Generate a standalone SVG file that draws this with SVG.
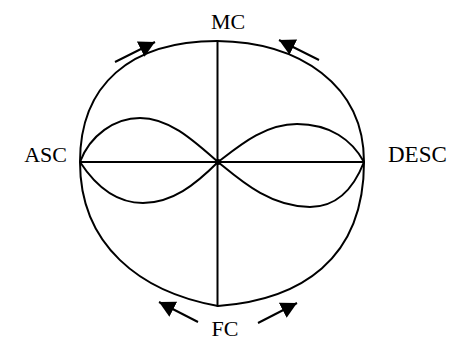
<svg xmlns="http://www.w3.org/2000/svg" width="453" height="340" viewBox="0 0 453 340">
  <defs>
    <marker id="ah" viewBox="0 0 16 17" refX="16" refY="8.5" markerWidth="16" markerHeight="17" markerUnits="userSpaceOnUse" orient="auto">
      <path d="M0,0 L16,8.5 L0,17 z" fill="#000"/>
    </marker>
  </defs>
  <style>
    .ln { fill: none; stroke: #000; stroke-width: 2; stroke-linecap: round; stroke-linejoin: round; }
    .arr { fill: none; stroke: #000; stroke-width: 2; marker-end: url(#ah); }
    .lbl { font-family: "Liberation Serif", "Times New Roman", serif; font-size: 22px; fill: #000; }
  </style>
  <rect width="453" height="340" fill="#fff"/>
  <g id="connectors">
    <path id="outer" class="ln" d="M80,162 C80,85 130,41 217,41 C300,42 364,85 364,162 C364,260 300,300 218,306 C140,292 80,245 80,162 Z"/>
    <line class="ln" x1="217.5" y1="41" x2="217.5" y2="306"/>
    <line class="ln" x1="80" y1="162" x2="364" y2="162"/>
    <path class="ln" d="M80,162 C90,135 115,118 140,118 C170,118 195,142 218,162"/>
    <path class="ln" d="M80,162 C95,185 115,203 143,203 C172,203 195,185 218,162"/>
    <path class="ln" d="M218,162 C240,145 265,124 297,124 C330,124 352,140 364,162"/>
    <path class="ln" d="M218,162 C240,180 270,207 310,207 C340,207 355,185 364,162"/>
    <line class="arr" x1="115" y1="62" x2="155" y2="42"/>
    <line class="arr" x1="319" y1="60" x2="279" y2="40"/>
    <line class="arr" x1="198" y1="322" x2="159" y2="302"/>
    <line class="arr" x1="258" y1="323" x2="297" y2="303"/>
  </g>
  <g id="center"><circle cx="218" cy="162" r="3" fill="#000"/></g>
  <g id="MC"><text class="lbl" x="228" y="28.5" text-anchor="middle">MC</text></g>
  <g id="ASC"><text class="lbl" x="67" y="161.5" text-anchor="end">ASC</text></g>
  <g id="DESC"><text class="lbl" x="388" y="161.5" style="font-size:23px">DESC</text></g>
  <g id="FC"><text class="lbl" x="225" y="336" text-anchor="middle">FC</text></g>
</svg>
